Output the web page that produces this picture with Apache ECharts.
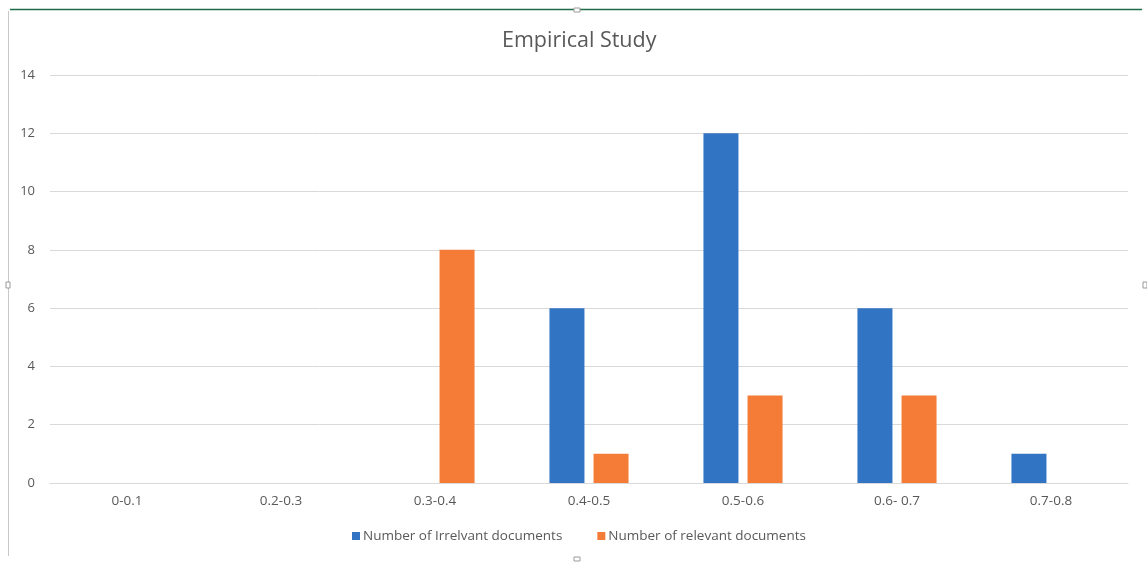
<!DOCTYPE html>
<html>
<head>
<meta charset="utf-8">
<script src="https://cdn.jsdelivr.net/npm/echarts@6/dist/echarts.min.js"></script>
<style>
  html, body { margin: 0; padding: 0; background: #ffffff; }
  #chart { width: 1147px; height: 562px; }
</style>
</head>
<body>
<div id="chart"></div>
<script>
// Score ranges on the x axis
const categories = ['0-0.1', '0.2-0.3', '0.3-0.4', '0.4-0.5', '0.5-0.6', '0.6- 0.7', '0.7-0.8'];
// Document counts per range
const irrelevantCounts = [0, 0, 0, 6, 12, 6, 1];
const relevantCounts = [0, 0, 8, 1, 3, 3, 0];
const seriesNames = ['Number of Irrelvant documents', 'Number of relevant documents'];

const textColor = '#595959';
const gridColor = '#d9d9d9';
const fontFamily = '"Open Sans", "Noto Sans", sans-serif';

const chart = echarts.init(document.getElementById('chart'), null, { renderer: 'canvas' });

chart.setOption({
  backgroundColor: '#ffffff',
  animation: false,
  title: {
    text: 'Empirical Study',
    left: 502,
    top: 30,
    padding: 0,
    textStyle: { color: textColor, fontSize: 21.5, fontWeight: 'normal', fontFamily: fontFamily }
  },
  grid: { left: 50, right: 19, top: 75, bottom: 79, containLabel: false },
  legend: {
    top: 524,
    left: 347,
    itemWidth: 8,
    itemHeight: 8,
    itemGap: 35,
    icon: 'rect',
    textStyle: { color: textColor, fontSize: 13.5, fontFamily: fontFamily, padding: [0, 0, 0, -2] },
    data: seriesNames
  },
  xAxis: {
    type: 'category',
    data: categories,
    axisLine: { show: true, lineStyle: { color: gridColor, width: 1 } },
    axisTick: { show: false },
    axisLabel: { color: textColor, fontSize: 13.5, fontFamily: fontFamily, margin: 11 }
  },
  yAxis: {
    type: 'value',
    min: 0,
    max: 14,
    interval: 2,
    axisLine: { show: false },
    axisTick: { show: false },
    axisLabel: { color: textColor, fontSize: 13, fontFamily: fontFamily, margin: 15 },
    splitLine: { lineStyle: { color: gridColor, width: 1 } }
  },
  series: [
    {
      name: seriesNames[0],
      type: 'bar',
      data: irrelevantCounts,
      barWidth: 35,
      barGap: '26%',
      itemStyle: { color: '#3174c3' }
    },
    {
      name: seriesNames[1],
      type: 'bar',
      data: relevantCounts,
      barWidth: 35,
      barGap: '26%',
      itemStyle: { color: '#f57c37' }
    }
  ],
  graphic: [
    // chart-area frame: selected top edge and left edge
    { type: 'line', shape: { x1: 10, y1: 9.5, x2: 1142, y2: 9.5 }, style: { stroke: '#1d6b47', lineWidth: 1.5 } },
    { type: 'line', shape: { x1: 8.5, y1: 11, x2: 8.5, y2: 556 }, style: { stroke: '#c8c8c8', lineWidth: 1 } },
    // resize handles
    { type: 'rect', shape: { x: 574, y: 8, width: 6, height: 4 }, style: { fill: '#ffffff', stroke: '#9a9a9a', lineWidth: 1 } },
    { type: 'rect', shape: { x: 574, y: 557, width: 6, height: 4 }, style: { fill: '#ffffff', stroke: '#9a9a9a', lineWidth: 1 } },
    { type: 'rect', shape: { x: 6, y: 282, width: 4, height: 6 }, style: { fill: '#ffffff', stroke: '#9a9a9a', lineWidth: 1 } },
    { type: 'rect', shape: { x: 1143, y: 282, width: 4, height: 6 }, style: { fill: '#ffffff', stroke: '#9a9a9a', lineWidth: 1 } }
  ]
});
</script>
</body>
</html>
